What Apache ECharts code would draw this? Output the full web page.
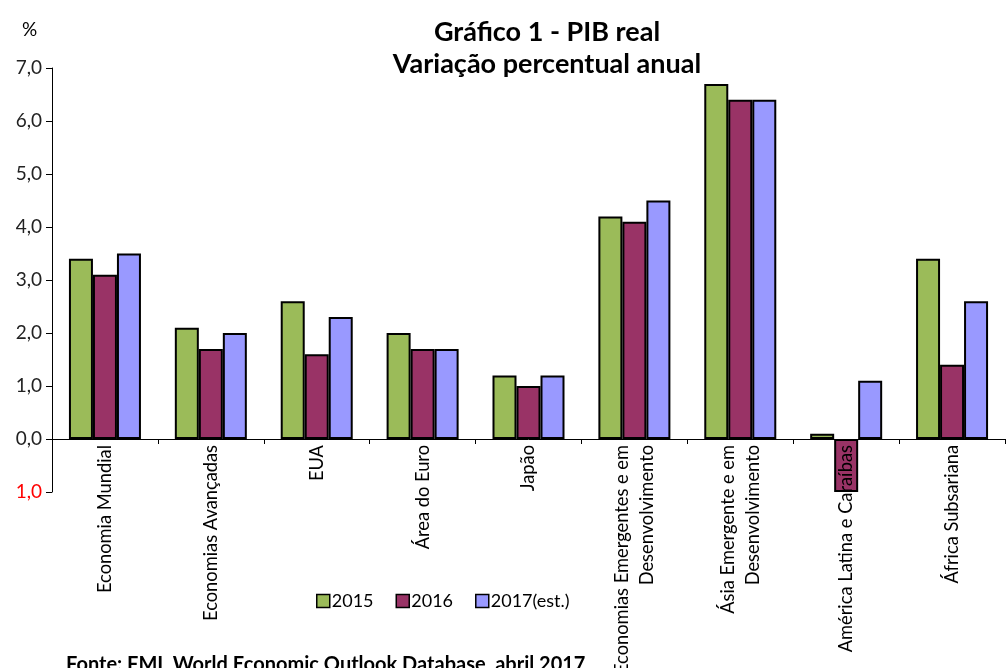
<!DOCTYPE html>
<html>
<head>
<meta charset="utf-8">
<script src="https://cdn.jsdelivr.net/npm/echarts@6/dist/echarts.min.js"></script>
<style>
  html, body { margin: 0; padding: 0; background: #fff; }
  #chart { width: 1007px; height: 668px; }
</style>
</head>
<body>
<div id="chart"></div>
<script>
const categories = [
  'Economia Mundial',
  'Economias Avançadas',
  'EUA',
  'Área do Euro',
  'Japão',
  'Economias Emergentes e em\nDesenvolvimento',
  'Ásia Emergente e em\nDesenvolvimento',
  'América Latina e Caraíbas',
  'África Subsariana'
]
const seriesNames = ['2015', '2016', '2017(est.)']
const values2015 = [3.4, 2.1, 2.6, 2.0, 1.2, 4.2, 6.7, 0.1, 3.4]
const values2016 = [3.1, 1.7, 1.6, 1.7, 1.0, 4.1, 6.4, -1.0, 1.4]
const values2017 = [3.5, 2.0, 2.3, 1.7, 1.2, 4.5, 6.4, 1.1, 2.6]
const colors = ['#9BBB59', '#993366', '#9999FF']

const font = 'Lato, "Open Sans", sans-serif'

const chart = echarts.init(document.getElementById('chart'), null, { renderer: 'canvas' })

const makeSeries = (name, data, color) => ({
  name: name,
  type: 'bar',
  data: data,
  barGap: '0%',
  barCategoryGap: '32%',
  itemStyle: { color: color, borderColor: '#000', borderWidth: 2 }
})

chart.setOption({
  animation: false,
  textStyle: { fontFamily: font },
  title: [
    {
      text: 'Gráfico 1 - PIB real\nVariação percentual anual',
      left: 542,
      top: 11,
      textAlign: 'center',
      textStyle: { fontSize: 27, fontWeight: 'bold', color: '#000', lineHeight: 32, fontFamily: font }
    },
    {
      text: '%',
      left: 17,
      top: 15,
      textStyle: { fontSize: 19, fontWeight: 'normal', color: '#000', fontFamily: font }
    },
    {
      text: 'Fonte: FMI, World Economic Outlook Database, abril 2017',
      left: 61,
      top: 650,
      textStyle: { fontSize: 20, fontWeight: 'bold', color: '#000', fontFamily: font }
    }
  ],
  legend: {
    data: seriesNames,
    left: 311,
    top: 587,
    icon: 'rect',
    itemWidth: 13,
    itemHeight: 13,
    itemGap: 22,
    itemStyle: { borderColor: '#000', borderWidth: 1.5 },
    textStyle: { fontSize: 18, color: '#000', fontFamily: font, padding: [0, 0, 0, -3] }
  },
  grid: { left: 52, right: 2, top: 68, bottom: 176, outerBoundsMode: 'none' },
  xAxis: {
    type: 'category',
    data: categories,
    z: 10,
    axisLine: { onZero: true, lineStyle: { color: '#000', width: 1 } },
    axisTick: { show: true, length: 5, lineStyle: { color: '#000' } },
    axisLabel: {
      rotate: 90,
      interval: 0,
      fontSize: 18.3,
      lineHeight: 25,
      color: '#000',
      margin: -47,
      fontFamily: font
    }
  },
  yAxis: {
    type: 'value',
    min: -1,
    max: 7,
    interval: 1,
    splitLine: { show: false },
    axisLine: { show: true, lineStyle: { color: '#000', width: 1 } },
    axisTick: { show: true, length: 6, inside: false, lineStyle: { color: '#000' } },
    axisLabel: {
      fontSize: 19,
      margin: 10,
      fontFamily: font,
      color: function (v) { return v < 0 ? '#FF0000' : '#222' },
      formatter: function (v) { return Math.abs(v).toFixed(1).replace('.', ',') }
    }
  },
  series: [
    makeSeries(seriesNames[0], values2015, colors[0]),
    makeSeries(seriesNames[1], values2016, colors[1]),
    makeSeries(seriesNames[2], values2017, colors[2])
  ]
})

window.addEventListener('resize', () => chart.resize())
</script>
</body>
</html>
